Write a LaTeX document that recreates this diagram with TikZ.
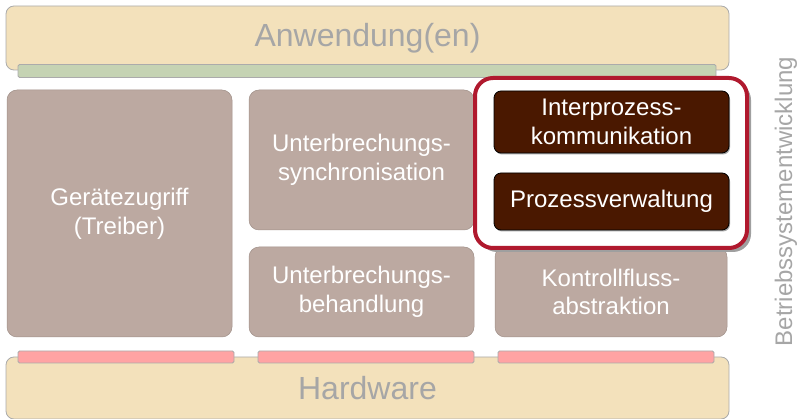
\documentclass[tikz,border=0pt]{standalone}
\usepackage{fontspec}
\setmainfont{Liberation Sans}
\usetikzlibrary{shadows}
\definecolor{beige}{HTML}{F3E1BB}
\definecolor{barGreen}{HTML}{C5D3B3}
\definecolor{barPink}{HTML}{FFA3A3}
\definecolor{boxGray}{HTML}{BCA9A1}
\definecolor{darkBrown}{HTML}{4A1800}
\definecolor{frameRed}{HTML}{B0192E}
\definecolor{txtGray}{HTML}{A6A6A6}
\definecolor{edgeGray}{HTML}{ABABAB}
\tikzset{
  layerbox/.style={rectangle, rounded corners=8pt, fill=beige, draw=edgeGray, line width=0.8pt,
    text=txtGray, font=\fontsize{32}{38}\selectfont, inner sep=0pt},
  bar/.style={rectangle, rounded corners=1.5pt, draw=edgeGray, line width=0.8pt, inner sep=0pt, minimum height=13pt},
  compbox/.style={rectangle, rounded corners=10pt, fill=boxGray, draw=boxGray!85!black, line width=0.5pt,
    text=white, font=\fontsize{24}{28.8}\selectfont, align=center, inner sep=0pt},
  darkbox/.style={rectangle, rounded corners=7pt, fill=darkBrown, draw=black, line width=0.8pt,
    text=white, font=\fontsize{24}{28.8}\selectfont, align=center, inner sep=0pt,
    drop shadow={shadow xshift=1pt, shadow yshift=-1.5pt, fill=gray!70, opacity=1}},
  frame/.style={rectangle, rounded corners=18pt, fill=white, draw=frameRed, line width=4pt, inner sep=0pt,
    drop shadow={shadow xshift=4pt, shadow yshift=-4pt, fill=gray!75, opacity=1}},
}
\begin{document}
\begin{tikzpicture}[x=1pt, y=-1pt]
\useasboundingbox (0,0) rectangle (798,419);
% application layer
\node[layerbox, minimum width=723pt, minimum height=64pt] (anw) at (367.5,38) {Anwendung(en)};
\node[bar, fill=barGreen, minimum width=698pt] (gbar) at (367,71) {};
% hardware layer
\node[layerbox, minimum width=723pt, minimum height=62pt] (hw) at (367.5,388) {Hardware};
\node[bar, fill=barPink, minimum width=216pt, minimum height=12pt] (pb1) at (126,357) {};
\node[bar, fill=barPink, minimum width=216pt, minimum height=12pt] (pb2) at (366,357) {};
\node[bar, fill=barPink, minimum width=216pt, minimum height=12pt] (pb3) at (606,357) {};
% components
\node[compbox, minimum width=225pt, minimum height=247pt] (ger) at (119.5,213.5) {Gerätezugriff\\(Treiber)};
\node[compbox, minimum width=225pt, minimum height=140pt] (usync) at (361.5,160) {Unterbrechungs-\\synchronisation};
\node[compbox, minimum width=225pt, minimum height=90pt] (ubeh) at (361.5,292) {Unterbrechungs-\\behandlung};
\node[compbox, minimum width=232pt, minimum height=90pt] (kfa) at (611,292) {Kontrollfluss-\\abstraktion};
% highlighted frame
\node[frame, minimum width=272pt, minimum height=170pt] (hl) at (611,163) {};
\node[darkbox, minimum width=235pt, minimum height=62pt] (ipk) at (611.5,122) {Interprozess-\\kommunikation};
\node[darkbox, minimum width=235pt, minimum height=57pt] (pv) at (611.5,201.5) {Prozessverwaltung};
% side label
\node[text=txtGray, font=\fontsize{24}{28}\selectfont, rotate=90, inner sep=0pt] (side) at (786,201.5) {Betriebssystementwicklung};
\end{tikzpicture}
\end{document}
